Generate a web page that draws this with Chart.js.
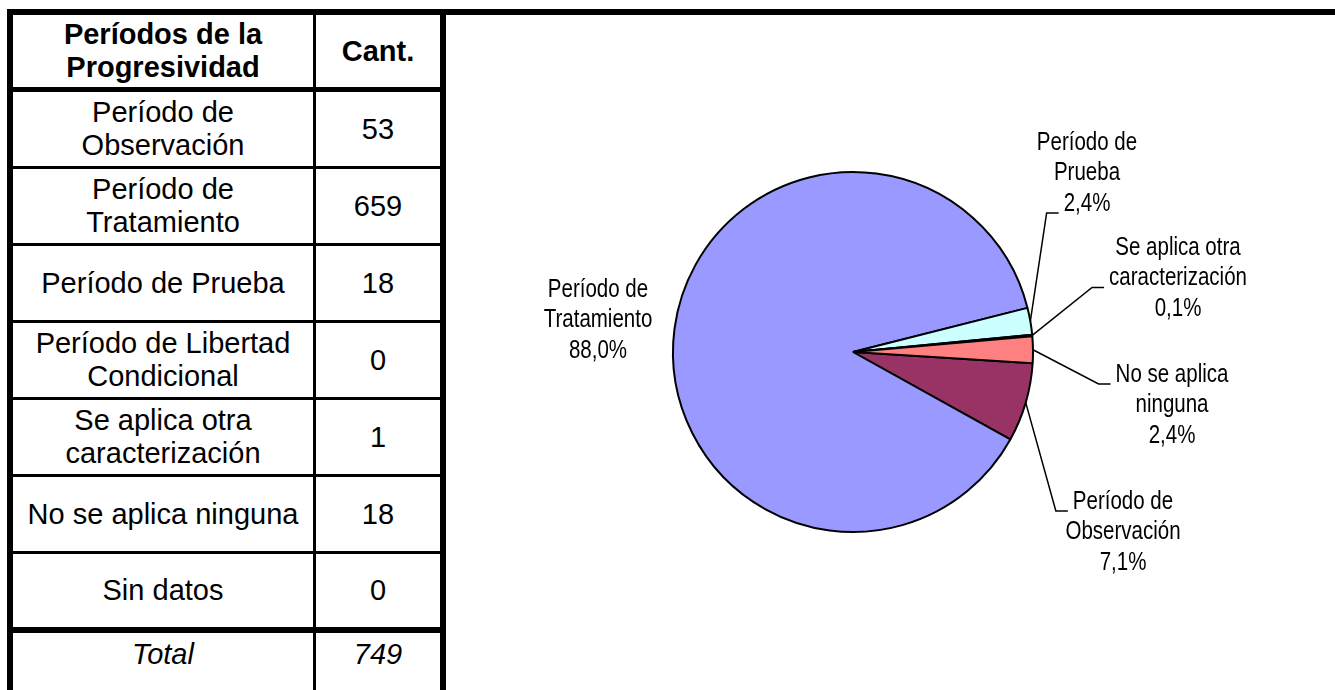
<!DOCTYPE html>
<html>
<head>
<meta charset="utf-8">
<script src="https://cdn.jsdelivr.net/npm/chart.js@4.4.0/dist/chart.umd.min.js"></script>
<style>
  body { margin: 0; background: #fff; width: 1335px; height: 690px; overflow: hidden; position: relative; font-family: "Liberation Sans", Arial, sans-serif; }
  #tabla { position: absolute; left: 7px; top: 9px; border: 6px solid #000; border-collapse: separate; border-spacing: 0; }
  #tabla td, #tabla th { padding: 0; text-align: center; vertical-align: middle; font-size: 29px; line-height: 33px; color: #000; border-bottom: 3px solid #000; box-sizing: border-box; height: 77px; }
  #tabla .c1 { width: 303px; min-width: 303px; max-width: 303px; border-right: 3px solid #000; }
  #tabla .c2 { width: 124px; min-width: 124px; max-width: 124px; }
  #tabla th { font-weight: bold; border-bottom-width: 5px; }
  #tabla tr.antes td { border-bottom-width: 6px; height: 79px; }
  #tabla tr.total td { font-style: italic; border-bottom: none; height: 80px; vertical-align: top; padding-top: 5px; }
  #grafico { position: absolute; left: 446px; top: 9px; width: 889px; height: 675px; border-top: 6px solid #000; }
</style>
</head>
<body>
<table id="tabla"></table>
<div id="grafico"><canvas id="torta" width="889" height="675"></canvas></div>
<script>
// datos de la tabla
const encabezado = ["Períodos de la\nProgresividad", "Cant."];
const categorias = [
  "Período de\nObservación",
  "Período de\nTratamiento",
  "Período de Prueba",
  "Período de Libertad\nCondicional",
  "Se aplica otra\ncaracterización",
  "No se aplica ninguna",
  "Sin datos"
];
const cantidades = [53, 659, 18, 0, 1, 18, 0];
const etiquetaTotal = "Total";

// etiquetas del gráfico (mismo orden que categorias)
const etiquetasTorta = [
  ["Período de", "Observación"],
  ["Período de", "Tratamiento"],
  ["Período de", "Prueba"],
  ["Período de Libertad", "Condicional"],
  ["Se aplica otra", "caracterización"],
  ["No se aplica", "ninguna"],
  ["Sin datos"]
];
const colores = ["#993366", "#9999FF", "#CCFFFF", "#FFFFCC", "#660066", "#FF8080", "#0066CC"];

const total = cantidades.reduce((a, b) => a + b, 0);

// armar la tabla
const tabla = document.getElementById("tabla");
const br = s => s.split("\n").join("<br>");
let html = '<tr><th class="c1">' + br(encabezado[0]) + '</th><th class="c2">' + encabezado[1] + '</th></tr>';
categorias.forEach((c, i) => {
  const cls = i === categorias.length - 1 ? ' class="antes"' : '';
  html += '<tr' + cls + '><td class="c1">' + br(c) + '</td><td class="c2">' + cantidades[i] + '</td></tr>';
});
html += '<tr class="total"><td class="c1">' + etiquetaTotal + '</td><td class="c2">' + total + '</td></tr>';
tabla.innerHTML = html;

// solo las porciones con valor
const idx = cantidades.map((v, i) => i).filter(i => cantidades[i] > 0);
const valores = idx.map(i => cantidades[i]);
const lineas = idx.map(i => etiquetasTorta[i]);
const coloresTorta = idx.map(i => colores[i]);
const pct = v => (v / total * 100).toFixed(1).replace(".", ",") + "%";

// posición de cada etiqueta respecto al centro (primera línea) y línea guía
const posEtiquetas = [[270, 150], [-255, -62], [234, -209], [325, -104], [319, 23]];
const lineaGuia = [0, -1, 2, 1, 0];

const pluginEtiquetas = {
  id: "etiquetas",
  afterDatasetsDraw(chart) {
    const ctx = chart.ctx;
    const meta = chart.getDatasetMeta(0);
    ctx.save();
    ctx.font = '25px "Liberation Sans", Arial, sans-serif';
    ctx.fillStyle = "#000";
    ctx.textBaseline = "middle";
    ctx.textAlign = "center";
    meta.data.forEach((arc, i) => {
      const p = arc.getProps(["x", "y", "startAngle", "endAngle", "outerRadius"], true);
      const txt = lineas[i].concat([pct(valores[i])]);
      const x0 = p.x + posEtiquetas[i][0];
      const y0 = p.y + posEtiquetas[i][1];
      txt.forEach((t, k) => {
        ctx.save();
        ctx.translate(x0, y0 + k * 30.5);
        ctx.scale(0.82, 1);
        ctx.fillText(t, 0, 0);
        ctx.restore();
      });
      const g = lineaGuia[i];
      if (g >= 0) {
        const w = ctx.measureText(txt[g]).width * 0.82;
        const ex = x0 - w / 2 - 5;
        const ey = y0 + g * 30.5 + 9;
        const mid = (p.startAngle + p.endAngle) / 2;
        ctx.beginPath();
        ctx.moveTo(p.x + Math.cos(mid) * p.outerRadius, p.y + Math.sin(mid) * p.outerRadius);
        ctx.lineTo(ex - 12, ey);
        ctx.lineTo(ex, ey);
        ctx.lineWidth = 1.5;
        ctx.strokeStyle = "#000";
        ctx.stroke();
      }
    });
    ctx.restore();
  }
};

new Chart(document.getElementById("torta"), {
  type: "pie",
  data: {
    labels: lineas.map(l => l.join(" ")),
    datasets: [{
      data: valores,
      backgroundColor: coloresTorta,
      borderColor: "#000",
      borderWidth: 2
    }]
  },
  options: {
    responsive: false,
    animation: false,
    rotation: 93.6,
    layout: { padding: { left: 226, right: 301, top: 156, bottom: 157 } },
    plugins: {
      legend: { display: false },
      tooltip: { enabled: false }
    }
  },
  plugins: [pluginEtiquetas]
});
</script>
</body>
</html>
